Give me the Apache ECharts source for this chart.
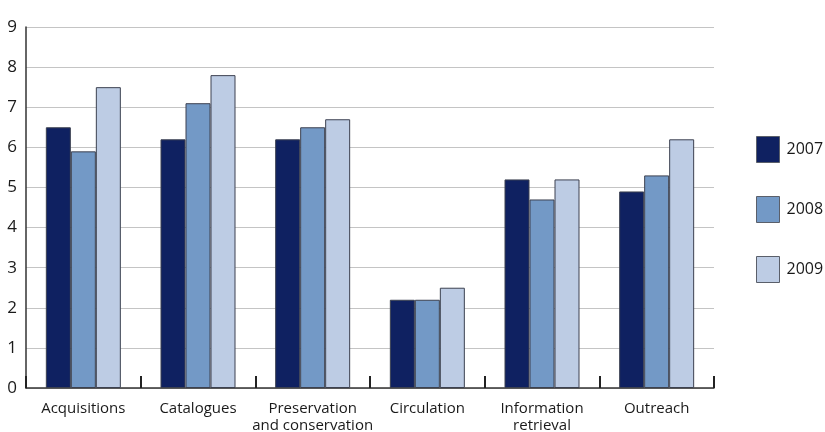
<!DOCTYPE html>
<html>
<head>
<meta charset="utf-8">
<script src="https://cdn.jsdelivr.net/npm/echarts@6/dist/echarts.min.js"></script>
<style>html,body{margin:0;padding:0;background:#fff}#c{width:825px;height:432px}</style>
</head>
<body>
<div id="c"></div>
<script>
var categories = ['Acquisitions', 'Catalogues', 'Preservation\nand conservation', 'Circulation', 'Information\nretrieval', 'Outreach'];
var years = ['2007', '2008', '2009'];
var s2007 = [6.5, 6.2, 6.2, 2.2, 5.2, 4.9];
var s2008 = [5.9, 7.1, 6.5, 2.2, 4.7, 5.3];
var s2009 = [7.5, 7.8, 6.7, 2.5, 5.2, 6.2];
var yTicks = [0, 1, 2, 3, 4, 5, 6, 7, 8, 9];

var colors = ['#0f2161', '#7399c6', '#bdcce4'];
var font = '"Open Sans", "Noto Sans", sans-serif';
var chart = echarts.init(document.getElementById('c'));
function bar(name, data, i) {
  return {
    name: name, type: 'bar', data: data, barWidth: 25, barGap: '0%',
    itemStyle: { color: colors[i], borderColor: '#3c4150', borderWidth: 1 },
    emphasis: { disabled: true }
  };
}
chart.setOption({
  animation: false,
  textStyle: { fontFamily: font },
  grid: { left: 26, right: 111, top: 27, bottom: 44, outerBoundsMode: 'none', containLabel: false },
  legend: {
    orient: 'vertical', left: 756, top: 136, padding: 0, itemWidth: 23, itemHeight: 26, itemGap: 33,
    icon: 'rect', textStyle: { fontSize: 16, color: '#1a1a1a', fontFamily: font, padding: [0, 0, 0, 2] },
    itemStyle: { borderColor: '#5a5f6a', borderWidth: 1 },
    data: years
  },
  xAxis: {
    type: 'category', data: categories,
    axisLine: { lineStyle: { color: '#333', width: 1.5 } },
    axisTick: { show: true, inside: true, length: 12, lineStyle: { color: '#222', width: 2 } },
    axisLabel: { fontSize: 15, color: '#1a1a1a', margin: 12, lineHeight: 17, fontFamily: font, interval: 0 }
  },
  yAxis: {
    type: 'value', min: 0, max: 9, interval: 1,
    axisLine: { show: true, lineStyle: { color: '#333', width: 1.5 } },
    axisTick: { show: false },
    splitLine: { lineStyle: { color: '#c4c4c4', width: 1 } },
    axisLabel: { fontSize: 17, color: '#1a1a1a', margin: 9, fontFamily: font,
      formatter: function (v) { return yTicks.indexOf(v) >= 0 ? String(v) : ''; } }
  },
  series: [bar(years[0], s2007, 0), bar(years[1], s2008, 1), bar(years[2], s2009, 2)]
});
</script>
</body>
</html>
